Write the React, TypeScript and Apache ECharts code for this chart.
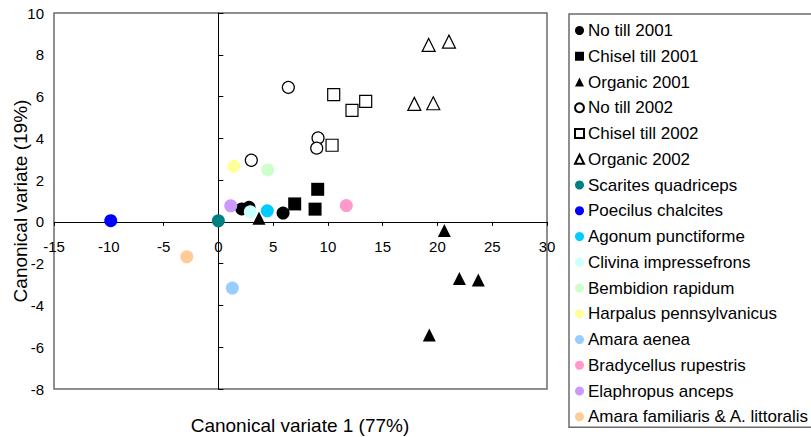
import React, { useEffect, useRef } from "react";
import * as echarts from "echarts";

// Site-year centroids (canonical variate 1, canonical variate 2)
const noTill2001 = [[2.14, 0.62], [2.8, 0.7], [5.91, 0.42]];
const chisel2001 = [[6.97, 0.86], [9.07, 1.56], [8.83, 0.61]];
const organic2001 = [[3.71, 0.18], [20.63, -0.41], [22.0, -2.71], [23.73, -2.78], [19.26, -5.42]];
const noTill2002 = [[6.39, 6.44], [3.01, 2.95], [9.1, 4.02], [8.98, 3.53]];
const chisel2002 = [[10.53, 6.09], [12.2, 5.34], [13.45, 5.77], [10.38, 3.67]];
const organic2002 = [[19.2, 8.47], [21.05, 8.63], [17.89, 5.65], [19.62, 5.68]];

// Species scores
const speciesNames = [
  "Scarites quadriceps",
  "Poecilus chalcites",
  "Agonum punctiforme",
  "Clivina impressefrons",
  "Bembidion rapidum",
  "Harpalus pennsylvanicus",
  "Amara aenea",
  "Bradycellus rupestris",
  "Elaphropus anceps",
  "Amara familiaris & A. littoralis",
];
const speciesPoints = [
  [0.0, 0.05],
  [-9.82, 0.06],
  [4.47, 0.53],
  [2.92, 0.48],
  [4.51, 2.49],
  [1.41, 2.66],
  [1.28, -3.17],
  [11.68, 0.78],
  [1.13, 0.77],
  [-2.88, -1.67],
];
const speciesColors = [
  "#008080",
  "#0000FF",
  "#00CCFF",
  "#CCFFFF",
  "#CCFFCC",
  "#FFFF99",
  "#99CCFF",
  "#FF99CC",
  "#CC99FF",
  "#FFCC99",
];

const xTicks = { min: -15, max: 30, interval: 5 };
const yTicks = { min: -8, max: 10, interval: 2 };

const FONT = "Arial, 'Liberation Sans', sans-serif";

const GRID = { left: 54, top: 13, width: 493, height: 376 };

export default function App() {
  const ref = useRef<HTMLDivElement>(null);

  useEffect(() => {
    if (!ref.current) return;
    const chart = echarts.init(ref.current, undefined, { renderer: "svg" });

    const siteSeries = [
      { name: "No till 2001", data: noTill2001, symbol: "circle", size: 13, filled: true },
      { name: "Chisel till 2001", data: chisel2001, symbol: "rect", size: 13, filled: true },
      { name: "Organic 2001", data: organic2001, symbol: "triangle", size: 13, filled: true },
      { name: "No till 2002", data: noTill2002, symbol: "circle", size: 12, filled: false },
      { name: "Chisel till 2002", data: chisel2002, symbol: "rect", size: 12, filled: false },
      { name: "Organic 2002", data: organic2002, symbol: "triangle", size: 13, filled: false },
    ].map((s) => ({
      type: "scatter",
      name: s.name,
      data: s.data,
      symbol: s.symbol,
      symbolSize: s.size,
      itemStyle: s.filled
        ? { color: "#000000", opacity: 1 }
        : { color: "#FFFFFF", borderColor: "#000000", borderWidth: 1.2, opacity: 1 },
    }));

    const spSeries = speciesNames.map((n, i) => ({
      type: "scatter",
      name: n,
      data: [speciesPoints[i]],
      symbol: "circle",
      symbolSize: 13,
      itemStyle: { color: speciesColors[i], opacity: 1 },
    }));

    const legendNames = [...siteSeries.map((s) => s.name), ...speciesNames];

    // distance from the bottom of the plot to the y = 0 line
    const zeroOffset = (GRID.height * (0 - yTicks.min)) / (yTicks.max - yTicks.min);

    chart.setOption({
      animation: false,
      grid: {
        ...GRID,
        show: true,
        borderColor: "#6b6b6b",
        borderWidth: 1.5,
        backgroundColor: "transparent",
        containLabel: false,
      },
      xAxis: {
        type: "value",
        position: "bottom",
        offset: -zeroOffset,
        min: xTicks.min,
        max: xTicks.max,
        interval: xTicks.interval,
        axisLine: { onZero: false, lineStyle: { color: "#000", width: 1 } },
        axisTick: { show: true, inside: false, length: 4, lineStyle: { color: "#000" } },
        axisLabel: {
          color: "#000",
          fontSize: 15,
          fontFamily: FONT,
          margin: 17,
          showMinLabel: true,
          showMaxLabel: true,
        },
        splitLine: { show: false },
      },
      yAxis: {
        type: "value",
        min: yTicks.min,
        max: yTicks.max,
        interval: yTicks.interval,
        axisLine: { onZero: true, lineStyle: { color: "#000", width: 1 } },
        axisTick: { show: true, inside: true, length: 5, lineStyle: { color: "#000" } },
        axisLabel: {
          color: "#000",
          fontSize: 15,
          fontFamily: FONT,
          margin: 10,
          showMinLabel: true,
          showMaxLabel: true,
        },
        splitLine: { show: false },
      },
      legend: {
        orient: "vertical",
        left: 569,
        top: 14,
        data: legendNames,
        selectedMode: false,
        itemWidth: 9,
        itemHeight: 9,
        itemGap: 8.75,
        padding: [8, 14, 2, 5],
        borderColor: "#6b6b6b",
        borderWidth: 1.5,
        textStyle: { color: "#000", fontSize: 17, fontFamily: FONT, padding: [0, 0, 0, -1] },
      },
      graphic: [
        {
          type: "text",
          x: 300,
          y: 425,
          style: {
            text: "Canonical variate 1 (77%)",
            fill: "#000",
            font: `19px ${FONT}`,
            textAlign: "center",
            textVerticalAlign: "middle",
          },
        },
        {
          type: "text",
          x: 20,
          y: 201,
          rotation: Math.PI / 2,
          style: {
            text: "Canonical variate (19%)",
            fill: "#000",
            font: `19px ${FONT}`,
            textAlign: "center",
            textVerticalAlign: "middle",
          },
        },
      ],
      series: [...siteSeries, ...spSeries],
    });

    return () => chart.dispose();
  }, []);

  return (
    <div
      ref={ref}
      style={{ position: "absolute", left: 0, top: 0, width: 811, height: 437, background: "#fff" }}
    />
  );
}
